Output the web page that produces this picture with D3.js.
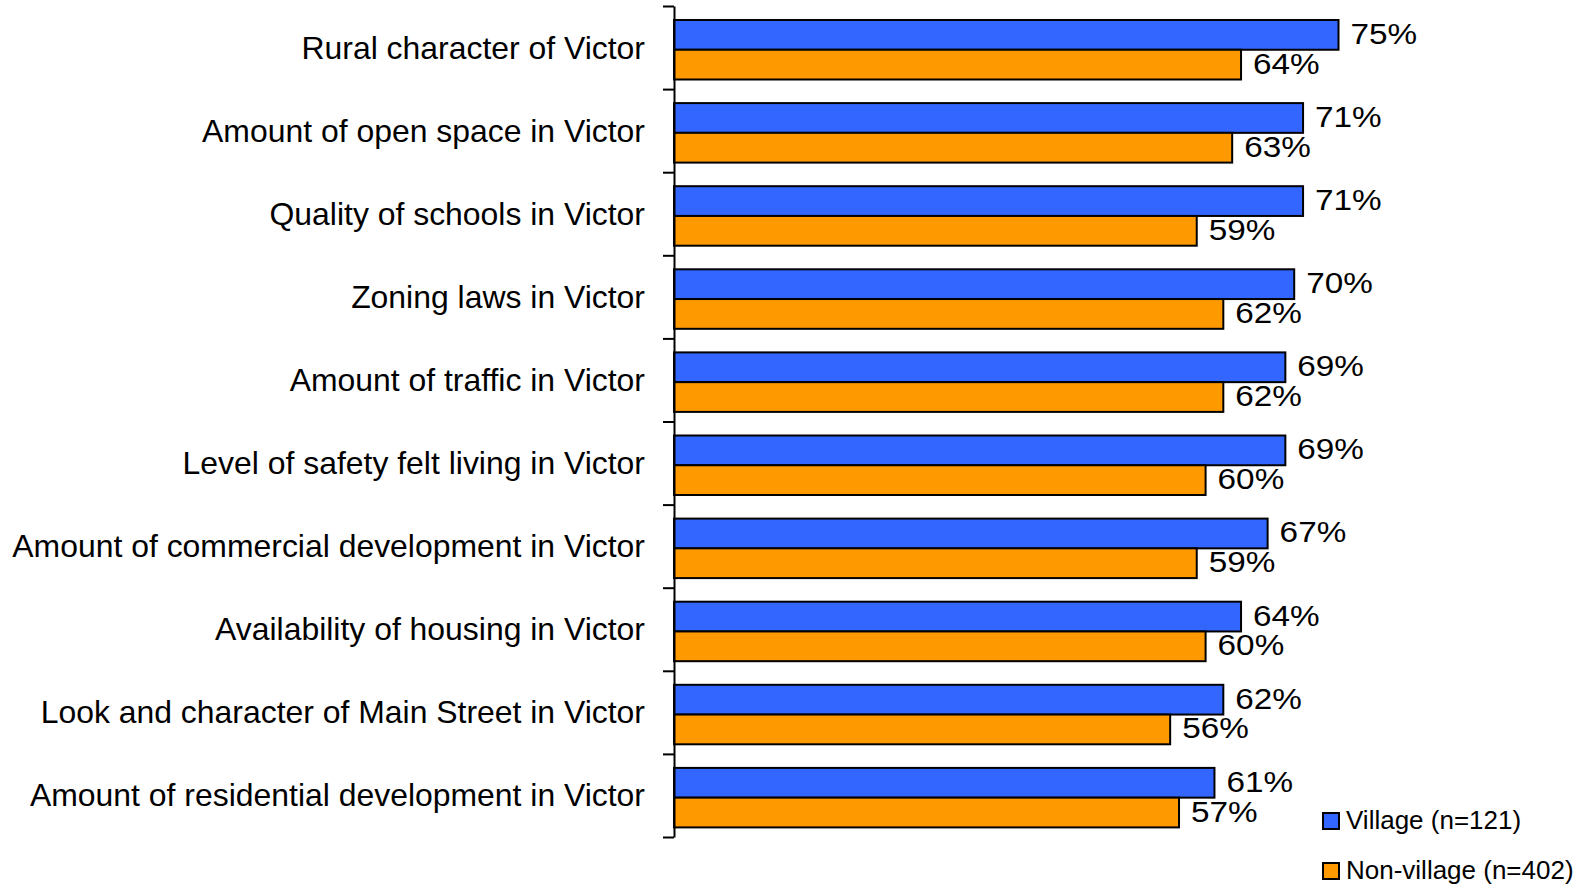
<!DOCTYPE html>
<html>
<head>
<meta charset="utf-8">
<script src="https://cdn.jsdelivr.net/npm/d3@7"></script>
<style>
  body { margin: 0; background: #fff; }
  svg { display: block; font-family: "Liberation Sans", Arial, sans-serif; }
</style>
</head>
<body>
<svg id="chart" width="1582" height="886"></svg>
<script>
// chart values
const categories = [
  'Rural character of Victor',
  'Amount of open space in Victor',
  'Quality of schools in Victor',
  'Zoning laws in Victor',
  'Amount of traffic in Victor',
  'Level of safety felt living in Victor',
  'Amount of commercial development in Victor',
  'Availability of housing in Victor',
  'Look and character of Main Street in Victor',
  'Amount of residential development in Victor'
];
const seriesNames = ['Village (n=121)', 'Non-village (n=402)'];
const village = [75, 71, 71, 70, 69, 69, 67, 64, 62, 61];
const nonVillage = [64, 63, 59, 62, 62, 60, 59, 60, 56, 57];
const colors = ['#3366FF', '#FF9900'];

const svg = d3.select('#chart');
const x0 = 674, plotTop = 6, plotBottom = 837;

const x = d3.scaleLinear().domain([0, 100]).range([x0, x0 + 886]);
const y = d3.scaleBand().domain(categories).range([plotTop, plotBottom]);
const ySub = d3.scaleBand().domain([0, 1]).range([14, 73.5]);

const rows = categories.map((c, i) => ({ cat: c, vals: [village[i], nonVillage[i]] }));

const g = svg.selectAll('g.row').data(rows).join('g')
  .attr('class', 'row')
  .attr('transform', d => `translate(0,${y(d.cat)})`);

g.selectAll('rect').data(d => d.vals).join('rect')
  .attr('x', x(0))
  .attr('y', (d, i) => ySub(i))
  .attr('width', d => x(d) - x(0))
  .attr('height', ySub.bandwidth())
  .attr('fill', (d, i) => colors[i])
  .attr('stroke', '#000')
  .attr('stroke-width', 2);

// text in the original is a bit wider than the font, so stretch it sideways
g.selectAll('text.val').data(d => d.vals).join('text')
  .attr('class', 'val')
  .attr('transform', (d, i) => `translate(${x(d) + 12},${ySub(i) + ySub.bandwidth() / 2 + 9}) scale(1.11,1)`)
  .attr('font-size', 30)
  .attr('fill', '#000')
  .text(d => d + '%');

g.append('text')
  .attr('transform', `translate(645,${y.bandwidth() / 2 + 11}) scale(1.03,1)`)
  .attr('text-anchor', 'end')
  .attr('font-size', 31)
  .attr('fill', '#000')
  .text(d => d.cat);

// category axis with ticks between groups
const tickScale = d3.scaleLinear().domain([0, categories.length]).range([plotTop, plotBottom]);
const axis = svg.append('g')
  .attr('transform', `translate(${x0},0)`)
  .call(d3.axisLeft(tickScale).tickValues(d3.range(categories.length + 1))
    .tickFormat('').tickSize(11).tickSizeOuter(0));
axis.selectAll('path, line').attr('stroke', '#000').attr('stroke-width', 2);

// legend
const legend = svg.append('g').attr('transform', 'translate(1323,813)');
const item = legend.selectAll('g').data(seriesNames).join('g')
  .attr('transform', (d, i) => `translate(0,${i * 50})`);
item.append('rect')
  .attr('width', 16).attr('height', 16)
  .attr('fill', (d, i) => colors[i])
  .attr('stroke', '#000').attr('stroke-width', 2);
item.append('text')
  .attr('transform', 'translate(23,16) scale(1.04,1)')
  .attr('font-size', 25)
  .attr('fill', '#000')
  .text(d => d);
</script>
</body>
</html>
